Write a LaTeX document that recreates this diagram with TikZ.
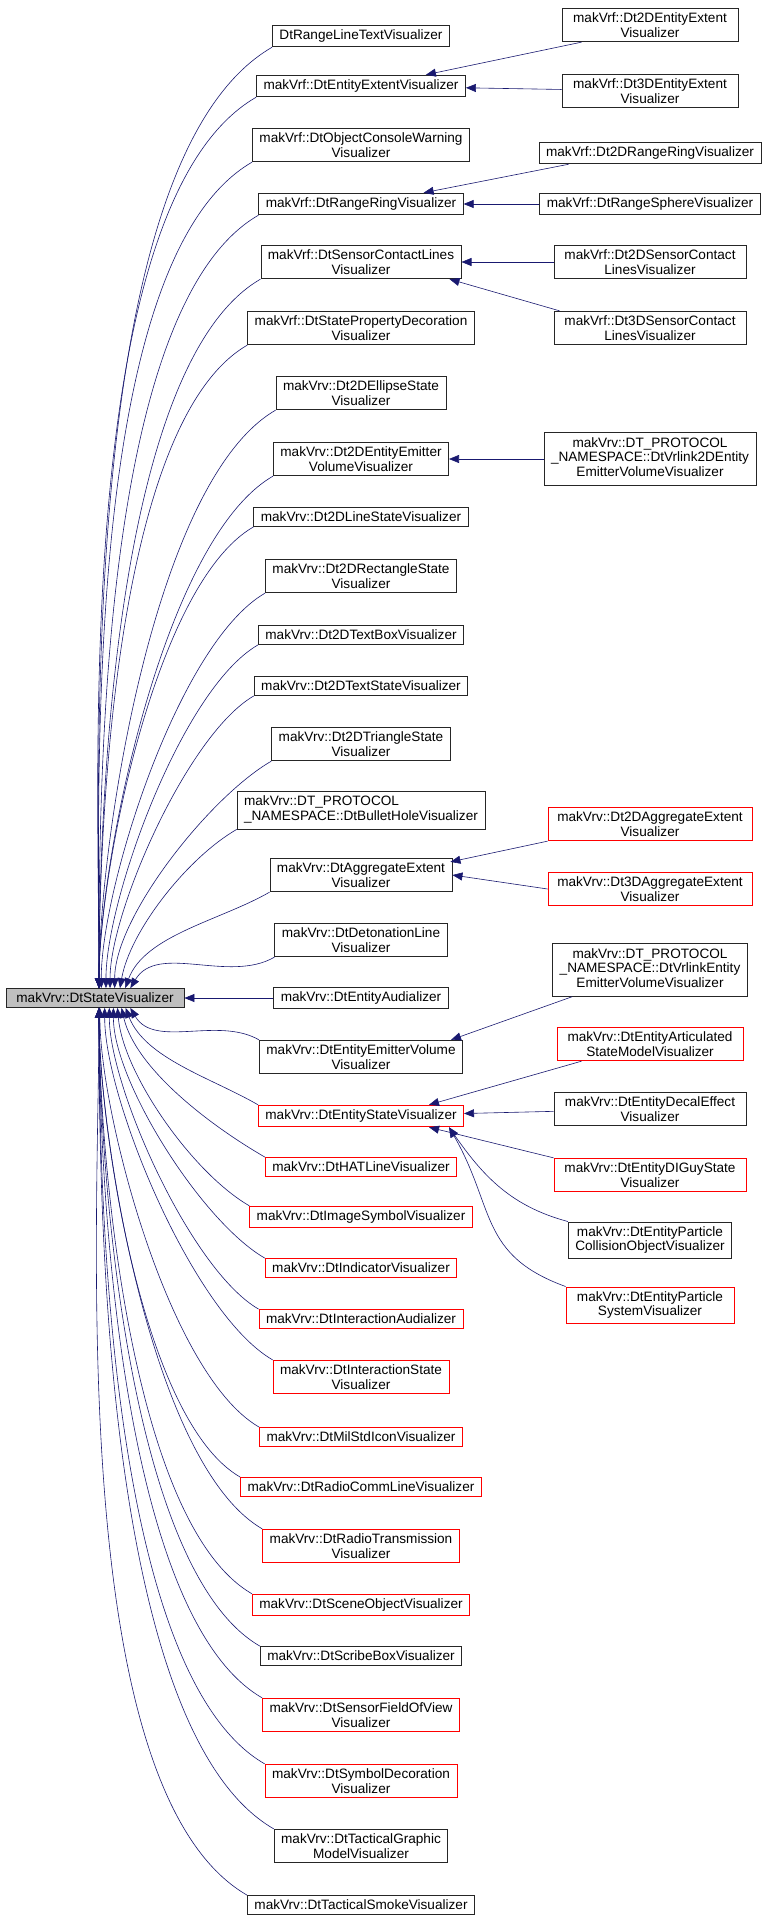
\documentclass[tikz,border=0pt]{standalone}
\usepackage{fontspec}
\setmainfont{Liberation Sans}
\usetikzlibrary{arrows.meta,positioning,calc}
\definecolor{edgeblue}{RGB}{25,25,112}
\tikzset{cls/.style={draw=black!85,thick,fill=white,font=\fontsize{13.6}{14.5}\selectfont,align=center,inner xsep=7pt,inner ysep=4.5pt},
  redcls/.style={cls,draw=red},
  dep/.style={edgeblue,semithick,-{Triangle[length=10pt,width=8pt]}}}

\begin{document}
\begin{tikzpicture}[x=1pt,y=-1pt]
\useasboundingbox (0,0) rectangle (765,1921);
\node[cls,fill=black!25,minimum width=178pt] (main) at (95,998) {makVrv::DtStateVisualizer};
% second column
\foreach \n/\y/\s/\t in {
  c1/36/cls/{DtRangeLineTextVisualizer},
  c2/86/cls/{makVrf::DtEntityExtentVisualizer},
  c3/145/cls/{makVrf::DtObjectConsoleWarning\\Visualizer},
  c4/204/cls/{makVrf::DtRangeRingVisualizer},
  c5/262/cls/{makVrf::DtSensorContactLines\\Visualizer},
  c6/328/cls/{makVrf::DtStatePropertyDecoration\\Visualizer},
  c7/393/cls/{makVrv::Dt2DEllipseState\\Visualizer},
  c8/459/cls/{makVrv::Dt2DEntityEmitter\\VolumeVisualizer},
  c9/517/cls/{makVrv::Dt2DLineStateVisualizer},
  c10/576/cls/{makVrv::Dt2DRectangleState\\Visualizer},
  c11/635/cls/{makVrv::Dt2DTextBoxVisualizer},
  c12/686/cls/{makVrv::Dt2DTextStateVisualizer},
  c13/744/cls/{makVrv::Dt2DTriangleState\\Visualizer},
  c14/810/cls/{\begin{tabular}{@{}l@{}}makVrv::DT\_PROTOCOL\\\_NAMESPACE::DtBulletHoleVisualizer\end{tabular}},
  c15/875/cls/{makVrv::DtAggregateExtent\\Visualizer},
  c16/940/cls/{makVrv::DtDetonationLine\\Visualizer},
  c18/1057/cls/{makVrv::DtEntityEmitterVolume\\Visualizer},
  c19/1116/redcls/{makVrv::DtEntityStateVisualizer},
  c20/1167/redcls/{makVrv::DtHATLineVisualizer},
  c21/1217/redcls/{makVrv::DtImageSymbolVisualizer},
  c22/1268/redcls/{makVrv::DtIndicatorVisualizer},
  c23/1319/redcls/{makVrv::DtInteractionAudializer},
  c24/1377/redcls/{makVrv::DtInteractionState\\Visualizer},
  c25/1437/redcls/{makVrv::DtMilStdIconVisualizer},
  c26/1487/redcls/{makVrv::DtRadioCommLineVisualizer},
  c27/1546/redcls/{makVrv::DtRadioTransmission\\Visualizer},
  c28/1605/redcls/{makVrv::DtSceneObjectVisualizer},
  c29/1656/cls/{makVrv::DtScribeBoxVisualizer},
  c30/1715/redcls/{makVrv::DtSensorFieldOfView\\Visualizer},
  c31/1781/redcls/{makVrv::DtSymbolDecoration\\Visualizer},
  c32/1846/cls/{makVrv::DtTacticalGraphic\\ModelVisualizer},
  c33/1905/cls/{makVrv::DtTacticalSmokeVisualizer}}
{
  \node[\s] (\n) at (361,\y) {\t};
  \pgfmathsetmacro\dy{abs(\y-998)}
  \pgfmathsetmacro\dx{40-36*min(1,\dy/450)}
  \pgfmathsetmacro\ang{90-40*max(0,1-\dy/250)}
  \pgfmathsetmacro\lo{0.6+0.4*max(0,1-\dy/300)}
  \ifdim\y pt<998pt
    \draw[dep] (\n.south west) to[out=210,in=\ang,looseness=\lo] ([xshift=\dx pt]main.north);
  \else
    \draw[dep] (\n.north west) to[out=150,in=-\ang,looseness=\lo] ([xshift=\dx pt]main.south);
  \fi
}
\node[cls] (c17) at (361,998) {makVrv::DtEntityAudializer};
\draw[dep] (c17) -- (main);
% third column
\node[cls,minimum width=176pt] (d1) at (650,25) {makVrf::Dt2DEntityExtent\\Visualizer};
\node[cls,minimum width=176pt] (d2) at (650,91) {makVrf::Dt3DEntityExtent\\Visualizer};
\node[cls] (d3) at (650,153) {makVrf::Dt2DRangeRingVisualizer};
\node[cls] (d4) at (650,204) {makVrf::DtRangeSphereVisualizer};
\node[cls,minimum width=192pt] (d5) at (650,262) {makVrf::Dt2DSensorContact\\LinesVisualizer};
\node[cls,minimum width=192pt] (d6) at (650,328) {makVrf::Dt3DSensorContact\\LinesVisualizer};
\node[cls] (d7) at (650,459) {\begin{tabular}{@{}c@{}}makVrv::DT\_PROTOCOL\hspace{4.5em}\\\_NAMESPACE::DtVrlink2DEntity\\EmitterVolumeVisualizer\end{tabular}};
\node[redcls,minimum width=204pt] (d8) at (650,824) {makVrv::Dt2DAggregateExtent\\Visualizer};
\node[redcls,minimum width=204pt] (d9) at (650,889) {makVrv::Dt3DAggregateExtent\\Visualizer};
\node[cls] (d10) at (650,970) {\begin{tabular}{@{}c@{}}makVrv::DT\_PROTOCOL\hspace{4.5em}\\\_NAMESPACE::DtVrlinkEntity\\EmitterVolumeVisualizer\end{tabular}};
\node[redcls,minimum width=186pt] (d11) at (650,1044) {makVrv::DtEntityArticulated\\StateModelVisualizer};
\node[cls,minimum width=192pt] (d12) at (650,1109) {makVrv::DtEntityDecalEffect\\Visualizer};
\node[redcls,minimum width=192pt] (d13) at (650,1175) {makVrv::DtEntityDIGuyState\\Visualizer};
\node[cls] (d14) at (650,1240) {makVrv::DtEntityParticle\\CollisionObjectVisualizer};
\node[redcls,minimum width=168pt] (d15) at (650,1305) {makVrv::DtEntityParticle\\SystemVisualizer};
% inner links
\draw[dep] ([xshift=20pt]d1.south west) -- ([xshift=-40pt]c2.north east);
\draw[dep] (d2) -- (c2);
\draw[dep] ([xshift=30pt]d3.south west) -- ([xshift=-40pt]c4.north east);
\draw[dep] (d4) -- (c4);
\draw[dep] (d5) -- (c5);
\draw[dep] ([xshift=6pt]d6.north west) -- ([xshift=-12pt]c5.south east);
\draw[dep] (d7) -- (c8);
\draw[dep] (d8.south west) -- ([xshift=-2pt,yshift=-4pt]c15.north east);
\draw[dep] (d9.west) -- (c15.east);
\draw[dep] ([xshift=20pt]d10.south west) -- ([xshift=-12pt]c18.north east);
\draw[dep] ([xshift=25pt]d11.south west) -- ([xshift=-35pt]c19.north east);
\draw[dep] (d12) -- (c19);
\draw[dep] (d13.north west) -- ([xshift=-35pt]c19.south east);
\draw[dep] (d14.north west) to[out=165,in=-55] ([xshift=-15pt]c19.south east);
\draw[dep] (d15.north west) to[out=160,in=-60,looseness=1.2] ([xshift=-15pt]c19.south east);
\end{tikzpicture}
\end{document}
